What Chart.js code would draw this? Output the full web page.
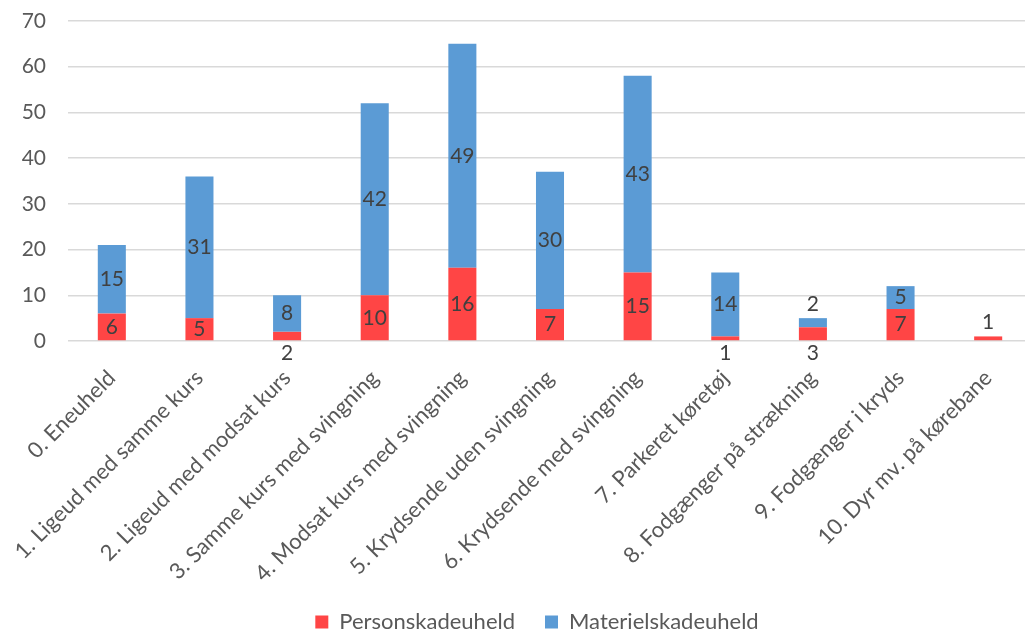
<!DOCTYPE html>
<html>
<head>
<meta charset="utf-8">
<script src="https://cdn.jsdelivr.net/npm/chart.js@4"></script>
<style>
  html, body { margin: 0; padding: 0; background: #fff; overflow: hidden; }
  #wrap { width: 1032px; height: 643px; }
</style>
</head>
<body>
<div id="wrap"><canvas id="chart"></canvas></div>
<script>
const categories = [
    '0. Eneuheld',
    '1. Ligeud med samme kurs',
    '2. Ligeud med modsat kurs',
    '3. Samme kurs med svingning',
    '4. Modsat kurs med svingning',
    '5. Krydsende uden svingning',
    '6. Krydsende med svingning',
    '7. Parkeret køretøj',
    '8. Fodgænger på strækning',
    '9. Fodgænger i kryds',
    '10. Dyr mv. på kørebane'
];
const personskade = [6, 5, 2, 10, 16, 7, 15, 1, 3, 7, 1];
const materielskade = [15, 31, 8, 42, 49, 30, 43, 14, 2, 5, 0];
const yTicks = [0, 10, 20, 30, 40, 50, 60, 70];

// where each value label sits: c = middle of segment, below = under the axis, above = over the bar
const personPlace = ['c', 'c', 'below', 'c', 'c', 'c', 'c', 'below', 'below', 'c', 'above'];
const materielPlace = ['c', 'c', 'c', 'c', 'c', 'c', 'c', 'c', 'above', 'c', 'none'];

const FONT = 'Lato, "Open Sans", sans-serif';

const valueLabels = {
    id: 'valueLabels',
    afterLayout(chart) {
        // legend sits a bit right of the canvas centre, like the original
        chart.legend.left = 42;
    },
    afterDatasetsDraw(chart) {
        const ctx = chart.ctx;
        const yScale = chart.scales.y;
        ctx.save();
        ctx.font = '21px ' + FONT;
        ctx.fillStyle = '#404040';
        ctx.textAlign = 'center';
        ctx.textBaseline = 'middle';
        chart.data.datasets.forEach(function(ds, di) {
            const meta = chart.getDatasetMeta(di);
            const places = di === 0 ? personPlace : materielPlace;
            meta.data.forEach(function(bar, i) {
                const v = ds.data[i];
                const p = places[i];
                if (!v || p === 'none') return;
                let y;
                if (p === 'below') y = yScale.bottom + 12;
                else if (p === 'above') y = bar.y - 14;
                else y = (bar.y + bar.base) / 2;
                ctx.fillText(String(v), bar.x, y);
            });
        });
        ctx.restore();
    }
};

const ctx = document.getElementById('chart').getContext('2d');
new Chart(ctx, {
    type: 'bar',
    data: {
        labels: categories,
        datasets: [{
            label: 'Personskadeuheld',
            data: personskade,
            backgroundColor: '#FF4545',
            barPercentage: 0.32,
            categoryPercentage: 1
        }, {
            label: 'Materielskadeuheld',
            data: materielskade,
            backgroundColor: '#5B9BD5',
            barPercentage: 0.32,
            categoryPercentage: 1
        }]
    },
    options: {
        responsive: true,
        maintainAspectRatio: false,
        animation: false,
        layout: { padding: { top: 21, right: 0, left: 0, bottom: 0 } },
        plugins: {
            tooltip: { enabled: false },
            legend: {
                position: 'bottom',
                labels: {
                    boxWidth: 13,
                    boxHeight: 13,
                    padding: 30,
                    color: '#595959',
                    font: { family: FONT, size: 22 }
                }
            }
        },
        scales: {
            x: {
                stacked: true,
                grid: { display: false, drawTicks: false },
                border: { display: false },
                ticks: {
                    autoSkip: false,
                    minRotation: 45,
                    maxRotation: 45,
                    padding: 24,
                    color: '#595959',
                    font: { family: FONT, size: 22 }
                },
                afterFit(scale) {
                    scale.height = 240;
                    scale.paddingLeft = 0;
                    scale.paddingRight = 0;
                }
            },
            y: {
                stacked: true,
                min: 0,
                max: 70,
                afterBuildTicks(scale) { scale.ticks = yTicks.map(v => ({ value: v })); },
                grid: { color: '#D9D9D9', lineWidth: 1.5, drawTicks: false },
                border: { display: false },
                ticks: {
                    padding: 22,
                    color: '#595959',
                    font: { family: FONT, size: 21 }
                },
                afterFit(scale) {
                    scale.width = 68;
                    scale.paddingTop = 0;
                    scale.paddingBottom = 0;
                }
            }
        }
    },
    plugins: [valueLabels]
});
</script>
</body>
</html>
